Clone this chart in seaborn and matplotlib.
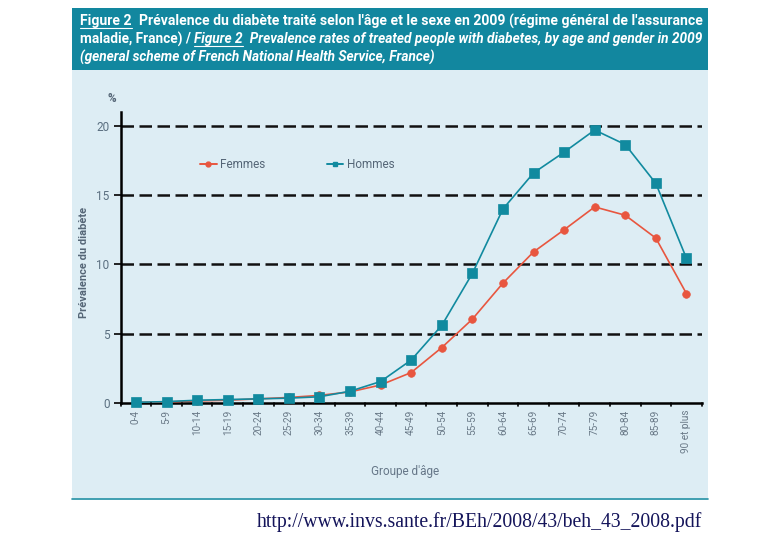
import matplotlib
matplotlib.use("Agg")
import matplotlib.pyplot as plt
from matplotlib.patches import Rectangle
from matplotlib.lines import Line2D
import seaborn as sns
import pandas as pd

age_groups = ["0-4", "5-9", "10-14", "15-19", "20-24", "25-29", "30-34", "35-39",
              "40-44", "45-49", "50-54", "55-59", "60-64", "65-69", "70-74",
              "75-79", "80-84", "85-89", "90 et plus"]
femmes = [0.05, 0.08, 0.15, 0.2, 0.3, 0.4, 0.55, 0.8, 1.3, 2.2, 4.0, 6.05, 8.65,
          10.9, 12.5, 14.15, 13.55, 11.9, 7.9]
hommes = [0.05, 0.1, 0.2, 0.25, 0.3, 0.35, 0.45, 0.85, 1.55, 3.1, 5.6, 9.35, 14.0,
          16.6, 18.1, 19.7, 18.65, 15.85, 10.45]
series_names = ["Femmes", "Hommes"]
y_ticks = [0, 5, 10, 15, 20]

fig_label = "Figure 2"
title_fr = "Prévalence du diabète traité selon l'âge et le sexe en 2009 (régime général de l'assurance"
title_fr2 = "maladie, France) / "
title_en = "Prevalence rates of treated people with diabetes, by age and gender in 2009"
title_en2 = "(general scheme of French National Health Service, France)"

df = pd.DataFrame({
    "age": age_groups * 2,
    "val": femmes + hommes,
    "sexe": [series_names[0]] * len(femmes) + [series_names[1]] * len(hommes),
})

sns.set_theme(style="white")
plt.rcParams["font.family"] = ["Roboto", "DejaVu Sans"]

W, H = 780, 540
fig = plt.figure(figsize=(W / 100, H / 100), dpi=100)
fig.patch.set_facecolor("white")

def fx(px):
    return px / W

def fy(py):
    return 1 - py / H

bg = "#ddedf4"
teal = "#12879f"
red = "#e8563f"
hteal = "#118a9f"

# panel background
fig.patches.append(Rectangle((fx(72), fy(498)), fx(708) - fx(72), fy(70) - fy(498),
                             transform=fig.transFigure, facecolor=bg, edgecolor="none", zorder=-5))
fig.patches.append(Rectangle((fx(72), fy(70)), fx(708) - fx(72), fy(8) - fy(70),
                             transform=fig.transFigure, facecolor=teal, edgecolor="none", zorder=-5))
fig.lines.append(Line2D([fx(72), fx(708)], [fy(498.5), fy(498.5)], transform=fig.transFigure,
                        color="#1f8fa3", lw=1.2, zorder=-4))

renderer = fig.canvas.get_renderer()

def place_line(segments, x0, y, target_w=None, fs=10.0):
    """segments: list of (text, italic, underline). Fit to target width if given."""
    def build(size):
        arts = []
        x = x0
        for txt, ital, und in segments:
            t = fig.text(fx(x), fy(y), txt, color="white", fontweight="bold", fontsize=size,
                         style="italic" if ital else "normal", va="center", ha="left")
            w = t.get_window_extent(renderer).width
            arts.append((t, x, w, und))
            x += w
        return arts, x - x0
    arts, tot = build(fs)
    if target_w is not None:
        for t, *_ in arts:
            t.remove()
        size = fs * target_w / tot
        arts, tot = build(size)
    for t, x, w, und in arts:
        if und:
            fig.lines.append(Line2D([fx(x), fx(x + w)], [fy(y + 7), fy(y + 7)],
                                    transform=fig.transFigure, color="white", lw=0.8))
    return arts

place_line([(fig_label, False, True), ("  " + title_fr, False, False)], 80, 21, target_w=623)
place_line([(title_fr2, False, False), (fig_label, True, True), ("  " + title_en, True, False)],
           80, 39, target_w=623)
place_line([(title_en2, True, False)], 80, 57, target_w=353)

# axes
ax = fig.add_axes([fx(120.7), fy(403), fx(701.7) - fx(120.7), fy(112) - fy(403)])
ax.set_facecolor("none")

sns.pointplot(data=df, x="age", y="val", hue="sexe", hue_order=series_names,
              palette={"Femmes": red, "Hommes": hteal}, markers=["o", "s"],
              linestyles=["-", "-"], ax=ax, legend=False, errorbar=None)
for ln, c in zip(ax.lines, [red, hteal]):
    ln.set_linewidth(1.2)
    ln.set_markersize(5.5 if c == red else 6.5)
    ln.set_markeredgewidth(0.5)
    ln.set_clip_on(False)
    ln.set_zorder(4 if c == hteal else 3)

ax.set_xlim(-0.5, len(age_groups) - 0.5)
ax.set_ylim(0, 21)
ax.set_yticks(y_ticks)
ax.set_yticklabels([str(v) for v in y_ticks], color="#5a6f80", fontsize=8.5)
ax.set_xticks(range(len(age_groups)))
ax.set_xticklabels(age_groups, rotation=90, color="#6a7a88", fontsize=7.2)
ax.tick_params(axis="x", length=0, pad=5)
ax.tick_params(axis="y", length=5, width=1.2, color="black", direction="out", pad=3, left=True)
for b in [i + 0.5 for i in range(-1, len(age_groups))]:
    ax.plot([b, b], [0, -0.25], color="black", lw=1.2, clip_on=False, zorder=5)

for v in y_ticks[1:]:
    ax.axhline(v, color="#111111", lw=1.8, ls=(0, (5, 2.2)), zorder=1)

for s in ["top", "right"]:
    ax.spines[s].set_visible(False)
ax.spines["left"].set_color("black")
ax.spines["left"].set_linewidth(1.8)
ax.spines["bottom"].set_color("black")
ax.spines["bottom"].set_linewidth(1.8)
ax.set_xlabel("")
ax.set_ylabel("")

# legend
handles = [Line2D([], [], color=red, marker="o", markersize=3.5, lw=1.4),
           Line2D([], [], color=hteal, marker="s", markersize=3.5, lw=1.4)]
ax.legend(handles, series_names, loc="center left", bbox_to_anchor=((200 - 120.7) / 581, (403 - 165) / 291),
          ncol=2, frameon=False, handlelength=1.4, handletextpad=0.3, columnspacing=5.2,
          prop={"size": 8.5}, labelcolor="#556677", borderaxespad=0, borderpad=0)

fig.text(fx(112), fy(98), "%", color="#556677", fontsize=8.5, fontweight="bold", ha="center", va="center")
fig.text(fx(84), fy(262), "Prévalence du diabète", rotation=90, color="#556677", fontsize=8,
         fontweight="bold", ha="center", va="center")
fig.text(fx(405), fy(471), "Groupe d'âge", color="#667788", fontsize=8.5, ha="center", va="center")

fig.text(fx(702), fy(522), "http://www.invs.sante.fr/BEh/2008/43/beh_43_2008.pdf",
         family=["Liberation Serif", "DejaVu Serif"], fontsize=14.2, color="#14145a",
         ha="right", va="center")

fig.savefig("out.png", dpi=100)
